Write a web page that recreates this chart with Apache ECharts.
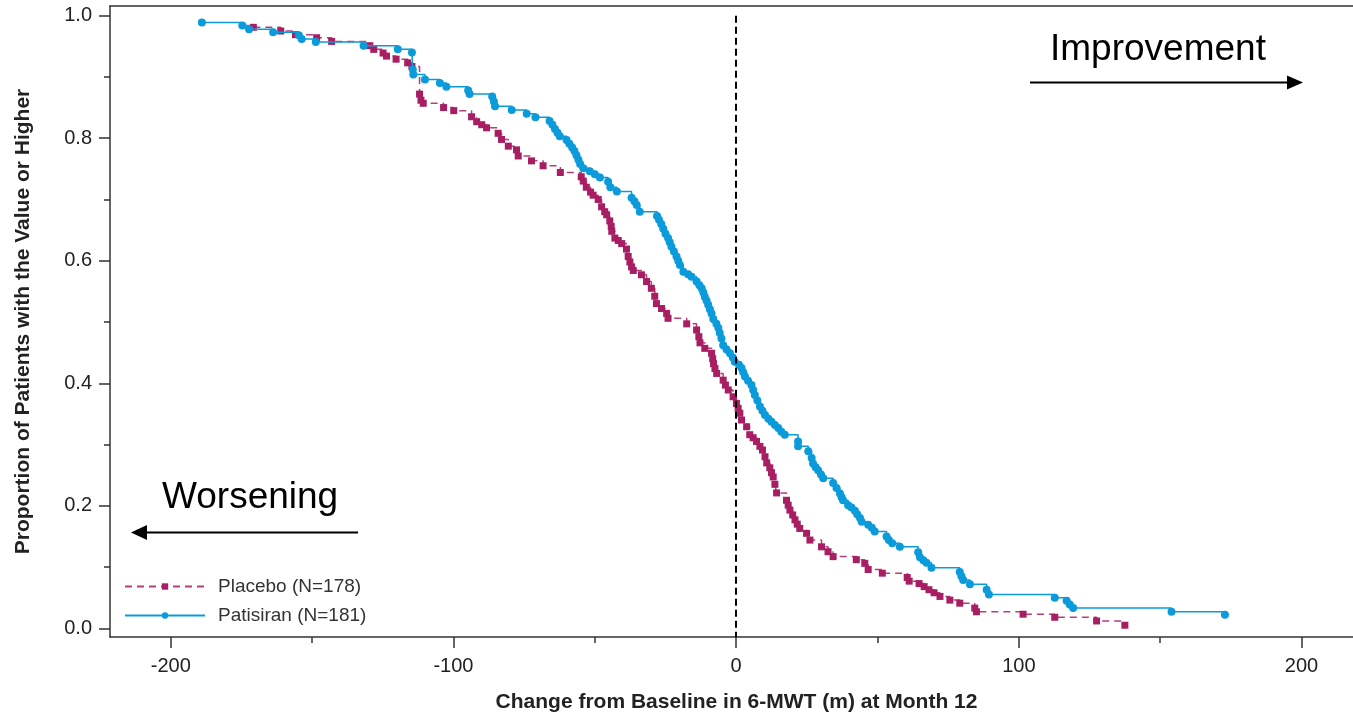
<!DOCTYPE html>
<html>
<head>
<meta charset="utf-8">
<script src="https://cdn.jsdelivr.net/npm/echarts@6/dist/echarts.min.js"></script>
<style>
html,body{margin:0;padding:0;background:#fff;}
#chart{width:1353px;height:713px;}
</style>
</head>
<body>
<div id="chart"></div>
<script>
// ---- Data ----
const placeboName = 'Placebo (N=178)';
const patisiranName = 'Patisiran (N=181)';

const placeboX = [-170.8,-161.1,-155.9,-148.4,-143.1,-129.6,-128.2,-124.9,-123.7,-120.3,-116.2,-114.7,
  -112.0,-111.5,-110.7,-103.5,-99.9,-93.6,-91.8,-90.0,-88.3,-84.2,-83.0,-80.6,-77.7,-77.1,-72.4,-68.3,
  -62.2,-54.8,-54.1,-53.0,-51.5,-50.6,-48.8,-47.6,-46.5,-45.8,-44.7,-44.2,-44.0,-42.9,-41.7,-40.5,-38.8,
  -38.2,-37.6,-37.0,-36.4,-33.5,-31.7,-30.0,-28.8,-28.2,-26.4,-24.6,-24.1,-17.5,-14.0,-13.2,-12.8,-11.1,
  -8.7,-8.3,-8.0,-7.5,-6.9,-4.6,-3.8,-2.8,-1.1,0.1,0.7,1.3,1.9,3.7,4.8,6.0,7.2,8.4,9.3,10.2,10.8,11.9,
  12.5,13.1,13.7,14.3,17.8,18.4,19.0,20.0,20.8,21.6,22.5,24.9,26.1,30.2,32.5,34.3,42.5,45.5,46.7,51.7,
  60.5,61.2,64.7,66.5,68.2,70.0,72.1,75.6,79.1,84.4,85.0,101.5,112.7,127.5,137.5];
const placeboY = [0.981,0.975,0.969,0.964,0.958,0.951,0.945,0.939,0.934,0.929,0.923,0.917,
  0.872,0.862,0.857,0.850,0.845,0.835,0.827,0.822,0.817,0.808,0.798,0.787,0.781,0.771,0.763,0.755,
  0.744,0.737,0.730,0.720,0.712,0.707,0.700,0.688,0.680,0.675,0.665,0.656,0.648,0.637,0.633,0.628,0.619,
  0.607,0.598,0.590,0.584,0.577,0.566,0.555,0.542,0.530,0.522,0.514,0.506,0.497,0.487,0.476,0.466,0.457,
  0.449,0.440,0.432,0.424,0.416,0.405,0.397,0.389,0.378,0.367,0.359,0.351,0.340,0.329,0.316,0.311,0.305,0.297,0.291,0.280,0.270,0.262,
  0.254,0.247,0.235,0.221,0.209,0.201,0.193,0.185,0.177,0.170,0.163,0.155,0.144,0.133,0.125,0.117,0.112,0.106,0.096,0.090,
  0.083,0.077,0.073,0.068,0.063,0.058,0.052,0.046,0.041,0.033,0.027,0.023,0.018,0.012,0.005];

const patisiranX = [-189.0,-174.7,-172.3,-163.8,-154.7,-153.7,-148.7,-131.8,-119.7,-114.7,-114.4,-114.2,
  -110.1,-104.8,-102.5,-94.8,-94.3,-86.3,-85.7,-85.3,-79.4,-74.1,-71.0,-66.0,-65.0,-64.1,-63.2,-62.4,
  -60.0,-59.0,-58.0,-57.2,-56.5,-55.8,-55.2,-54.1,-51.8,-50.0,-48.2,-45.3,-44.5,-42.2,-37.0,-36.0,-35.2,
  -34.1,-28.0,-27.3,-26.5,-25.8,-25.0,-24.1,-23.5,-22.9,-22.0,-21.1,-20.5,-19.9,-18.7,-17.0,-15.8,-14.0,
  -13.0,-12.2,-11.6,-11.1,-10.5,-9.9,-9.3,-8.7,-8.1,-7.0,-6.3,-5.8,-5.2,-4.6,-3.4,-2.2,-1.2,-0.5,1.0,1.9,
  2.5,3.1,4.2,5.4,6.0,6.6,7.5,8.4,9.3,10.2,11.4,12.5,13.7,14.9,16.0,17.2,21.9,21.9,25.5,26.7,27.2,28.1,
  29.0,30.0,30.8,34.3,35.5,36.7,37.3,37.8,39.6,40.8,42.0,42.8,43.8,44.4,46.7,48.0,49.0,53.2,54.0,55.2,
  57.9,64.4,65.0,66.2,67.3,69.1,79.1,79.7,80.3,82.7,88.6,89.4,112.7,116.9,118.0,119.2,154.0,172.9];
const patisiranY = [0.989,0.984,0.978,0.973,0.968,0.962,0.957,0.951,0.945,0.940,0.912,0.904,
  0.896,0.890,0.884,0.878,0.872,0.868,0.860,0.852,0.846,0.840,0.834,0.828,0.822,0.815,0.809,0.803,
  0.797,0.791,0.785,0.779,0.772,0.765,0.758,0.751,0.746,0.741,0.736,0.729,0.720,0.713,0.703,0.697,0.691,
  0.680,0.673,0.667,0.660,0.652,0.644,0.637,0.630,0.623,0.615,0.607,0.600,0.593,0.582,0.578,0.574,0.566,
  0.560,0.555,0.548,0.541,0.535,0.528,0.521,0.514,0.505,0.497,0.490,0.482,0.473,0.462,0.455,0.449,0.442,0.435,0.430,0.425,
  0.418,0.411,0.404,0.397,0.389,0.381,0.372,0.362,0.355,0.348,0.342,0.337,0.332,0.327,0.321,0.316,0.305,0.297,0.289,0.278,0.269,0.263,
  0.258,0.251,0.245,0.237,0.229,0.220,0.214,0.209,0.201,0.197,0.192,0.186,0.180,0.174,0.169,0.164,0.158,0.150,0.144,0.139,
  0.133,0.124,0.116,0.111,0.107,0.099,0.092,0.085,0.079,0.072,0.063,0.055,0.050,0.045,0.039,0.033,0.027,0.022];

const xMajorTicks = [-200,-100,0,100,200];
const xMinorTicks = [-150,-50,50,150];
const yMajorTicks = [0,0.2,0.4,0.6,0.8,1.0];
const yMinorTicks = [0.1,0.3,0.5,0.7,0.9];

const xTitle = 'Change from Baseline in 6-MWT (m) at Month 12';
const yTitle = 'Proportion of Patients with the Value or Higher';
const rightNote = 'Improvement';
const leftNote = 'Worsening';

// ---- Build ----
const zip = (xs, ys) => xs.map((x, i) => [x, ys[i]]);
const X_MIN = -221.5, X_MAX = 218.2, Y_MIN = -0.0142, Y_MAX = 1.0158;
const FONT = 'Liberation Sans, Arial, sans-serif';
const MAGENTA = '#A81E62';
const BLUE = '#0B9BDA';
const AXIS = '#333';

const chart = echarts.init(document.getElementById('chart'), null, {renderer: 'canvas'});

const baseX = {type: 'value', min: X_MIN, max: X_MAX, splitLine: {show: false}};
const baseY = {type: 'value', min: Y_MIN, max: Y_MAX, splitLine: {show: false}};

chart.setOption({
  animation: false,
  backgroundColor: '#fff',
  textStyle: {fontFamily: FONT},
  grid: {left: 110, top: 6, right: 0, bottom: 76, containLabel: false, outerBoundsMode: 'none'},
  xAxis: [
    Object.assign({}, baseX, {
      position: 'bottom',
      axisLine: {show: true, onZero: false, lineStyle: {color: AXIS, width: 1.5}},
      axisTick: {show: true, length: 11, customValues: xMajorTicks, lineStyle: {color: AXIS, width: 1.5}},
      axisLabel: {show: true, customValues: xMajorTicks, margin: 19, fontSize: 20, color: '#222', fontFamily: FONT},
      name: xTitle, nameLocation: 'middle', nameGap: 55,
      nameTextStyle: {fontSize: 21, fontWeight: 'bold', color: '#222', fontFamily: FONT, padding: [0, 0, 0, 10]}
    }),
    Object.assign({}, baseX, {
      position: 'bottom',
      axisLine: {show: false, onZero: false},
      axisTick: {show: true, length: 6, customValues: xMinorTicks, lineStyle: {color: AXIS, width: 1.5}},
      axisLabel: {show: false}
    }),
    Object.assign({}, baseX, {
      position: 'top',
      axisLine: {show: true, onZero: false, lineStyle: {color: AXIS, width: 1.5}},
      axisTick: {show: false},
      axisLabel: {show: false}
    })
  ],
  yAxis: [
    Object.assign({}, baseY, {
      position: 'left',
      axisLine: {show: true, onZero: false, lineStyle: {color: AXIS, width: 1.5}},
      axisTick: {show: true, length: 11, customValues: yMajorTicks, lineStyle: {color: AXIS, width: 1.5}},
      axisLabel: {show: true, customValues: yMajorTicks, margin: 18, fontSize: 20, color: '#222', fontFamily: FONT,
        formatter: v => Number(v).toFixed(1)},
      name: yTitle, nameLocation: 'middle', nameGap: 76, nameRotate: 90,
      nameTextStyle: {fontSize: 21, fontWeight: 'bold', color: '#222', fontFamily: FONT}
    }),
    Object.assign({}, baseY, {
      position: 'left',
      axisLine: {show: false, onZero: false},
      axisTick: {show: true, length: 6, customValues: yMinorTicks, lineStyle: {color: AXIS, width: 1.5}},
      axisLabel: {show: false}
    })
  ],
  legend: {
    left: 124, top: 577, orient: 'vertical', padding: 0,
    itemWidth: 80, itemHeight: 8, itemGap: 10,
    textStyle: {fontSize: 19, color: '#333', fontFamily: FONT, padding: [0, 0, 0, 8]},
    data: [placeboName, patisiranName]
  },
  series: [
    {
      name: placeboName, type: 'line', step: 'end',
      data: zip(placeboX, placeboY),
      symbol: 'rect', symbolSize: 7, showAllSymbol: true,
      itemStyle: {color: MAGENTA},
      lineStyle: {color: MAGENTA, width: 1.5, type: [7, 5], opacity: 0.85},
      z: 3,
      markLine: {
        silent: true, symbol: ['none', 'none'], label: {show: false},
        lineStyle: {color: '#000', width: 2, type: [7, 4]},
        data: [[{xAxis: 0, yAxis: 1.0}, {xAxis: 0, yAxis: Y_MIN}]]
      }
    },
    {
      name: patisiranName, type: 'line', step: 'end',
      data: zip(patisiranX, patisiranY),
      symbol: 'circle', symbolSize: 8, showAllSymbol: true,
      itemStyle: {color: BLUE},
      lineStyle: {color: BLUE, width: 1.5, type: 'solid'},
      z: 4
    }
  ],
  graphic: [
    {type: 'text', left: 1050, top: 31, z: 10,
      style: {text: rightNote, font: '37px ' + FONT, fill: '#000'}},
    {type: 'line', z: 10, shape: {x1: 1030, y1: 82.5, x2: 1289, y2: 82.5}, style: {stroke: '#000', lineWidth: 2}},
    {type: 'polygon', z: 10, shape: {points: [[1287, 75.5], [1303, 82.5], [1287, 89.5]]}, style: {fill: '#000'}},
    {type: 'text', left: 162, top: 479, z: 10,
      style: {text: leftNote, font: '37px ' + FONT, fill: '#000'}},
    {type: 'line', z: 10, shape: {x1: 358, y1: 532.5, x2: 145, y2: 532.5}, style: {stroke: '#000', lineWidth: 2}},
    {type: 'polygon', z: 10, shape: {points: [[147, 525], [131, 532.5], [147, 540]]}, style: {fill: '#000'}}
  ]
});
</script>
</body>
</html>
